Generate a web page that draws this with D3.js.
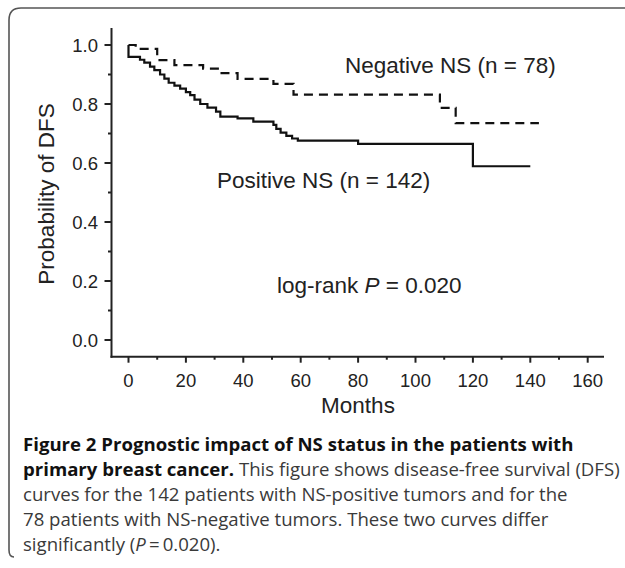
<!DOCTYPE html>
<html>
<head>
<meta charset="utf-8">
<script src="https://cdn.jsdelivr.net/npm/d3@7"></script>
<style>
  body { margin: 0; background: #fff; }
  svg { display: block; }
  .tick-label { font-family: "Liberation Sans", Arial, sans-serif; font-size: 18.5px; fill: #222; }
  .note { font-family: "Liberation Sans", Arial, sans-serif; font-size: 22.5px; fill: #222; }
  .caption { font-family: "Open Sans", sans-serif; font-size: 18.6px; fill: #3a3a3a; }
  .caption .bold { font-weight: bold; fill: #111; }
</style>
</head>
<body>
<div id="chart"></div>
<script>
// Kaplan-Meier steps (months, survival after the step)
var posMonths = [0, 0, 4, 5.5, 7.5, 9, 11, 12.5, 14, 16, 18, 20, 21.5, 23, 25, 27.5, 30.5, 32, 38, 43.5, 50.5, 51.5, 53, 55, 57, 59, 80, 120, 140];
var posSurv   = [1.0, 0.960, 0.950, 0.940, 0.927, 0.915, 0.900, 0.886, 0.872, 0.862, 0.852, 0.840, 0.830, 0.815, 0.800, 0.788, 0.774, 0.757, 0.751, 0.740, 0.729, 0.716, 0.703, 0.692, 0.683, 0.676, 0.665, 0.589, 0.589];

var negMonths = [0, 2.5, 10, 16, 26, 31.5, 38, 50.5, 57.5, 108.5, 114, 143];
var negSurv   = [1.0, 0.987, 0.949, 0.932, 0.920, 0.905, 0.885, 0.868, 0.832, 0.787, 0.735, 0.735];

var xTicks = [0, 20, 40, 60, 80, 100, 120, 140, 160];
var xMinorTicks = [10, 30, 50, 70, 90, 110, 130, 150];
var yTicks = [0, 0.2, 0.4, 0.6, 0.8, 1.0];
var yMinorTicks = [0.1, 0.3, 0.5, 0.7, 0.9];

var captionLines = [
    [{t: 'Figure 2 Prognostic impact of NS status in the patients with', b: true}],
    [{t: 'primary breast cancer.', b: true}, {t: ' This figure shows disease-free survival (DFS)'}],
    [{t: 'curves for the 142 patients with NS-positive tumors and for the'}],
    [{t: '78 patients with NS-negative tumors. These two curves differ'}],
    [{t: 'significantly ('}, {t: 'P', i: true}, {t: '\u2009=\u20090.020).'}]
];

var width = 625,
    height = 568;

var svg = d3.select('#chart').append('svg')
    .attr('width', width)
    .attr('height', height)
    .attr('viewBox', `0 0 ${width} ${height}`);

// Frame with rounded left corners, open on the right
svg.append('path')
    .attr('d', 'M14,557 Q9,557 9,550 L9,20 Q9,8 21,8 L625,8')
    .attr('fill', 'none')
    .attr('stroke', '#555')
    .attr('stroke-width', 1.6);

// Scales
var xScale = d3.scaleLinear().domain([0, 160]).range([128.5, 587.7]);
var yScale = d3.scaleLinear().domain([0, 1]).range([340, 45]);

var axisX0 = 111.5,
    axisY0 = 356.7;

// Axis lines
var axes = svg.append('g').attr('stroke', '#222').attr('stroke-width', 2).attr('fill', 'none');
axes.append('line').attr('x1', axisX0).attr('x2', axisX0).attr('y1', 28).attr('y2', axisY0 + 1);
axes.append('line').attr('x1', axisX0 - 1).attr('x2', 604).attr('y1', axisY0).attr('y2', axisY0);

// Y ticks
axes.selectAll('.ymaj').data(yTicks).enter().append('line')
    .attr('x1', axisX0 - 7).attr('x2', axisX0)
    .attr('y1', (d) => yScale(d)).attr('y2', (d) => yScale(d));
axes.selectAll('.ymin').data(yMinorTicks).enter().append('line')
    .attr('x1', axisX0 - 3.5).attr('x2', axisX0)
    .attr('y1', (d) => yScale(d)).attr('y2', (d) => yScale(d));

svg.selectAll('.ylab').data(yTicks).enter().append('text')
    .attr('class', 'tick-label')
    .attr('x', 98)
    .attr('y', (d) => yScale(d))
    .attr('dy', '0.36em')
    .attr('text-anchor', 'end')
    .text(d3.format('.1f'));

// X ticks
axes.selectAll('.xmaj').data(xTicks).enter().append('line')
    .attr('x1', (d) => xScale(d)).attr('x2', (d) => xScale(d))
    .attr('y1', axisY0).attr('y2', axisY0 + 6);
axes.selectAll('.xmin').data(xMinorTicks).enter().append('line')
    .attr('x1', (d) => xScale(d)).attr('x2', (d) => xScale(d))
    .attr('y1', axisY0).attr('y2', axisY0 + 3);

svg.selectAll('.xlab').data(xTicks).enter().append('text')
    .attr('class', 'tick-label')
    .attr('x', (d) => xScale(d))
    .attr('y', 386.5)
    .attr('text-anchor', 'middle')
    .text((d) => d);

// Axis titles
svg.append('text')
    .attr('class', 'note')
    .attr('transform', 'translate(54,194) rotate(-90)')
    .attr('text-anchor', 'middle')
    .text('Probability of DFS');

svg.append('text')
    .attr('class', 'note')
    .attr('x', 358)
    .attr('y', 413)
    .attr('text-anchor', 'middle')
    .text('Months');

// Survival curves
var line = d3.line()
    .x((d) => xScale(d[0]))
    .y((d) => yScale(d[1]))
    .curve(d3.curveStepAfter);

svg.append('path')
    .datum(d3.zip(posMonths, posSurv))
    .attr('d', line)
    .attr('fill', 'none')
    .attr('stroke', '#111')
    .attr('stroke-width', 2.2);

svg.append('path')
    .datum(d3.zip(negMonths, negSurv))
    .attr('d', line)
    .attr('fill', 'none')
    .attr('stroke', '#111')
    .attr('stroke-width', 2.2)
    .attr('stroke-dasharray', '9,6');

// Curve labels
svg.append('text').attr('class', 'note').attr('x', 345).attr('y', 73).text('Negative NS (n = 78)');
svg.append('text').attr('class', 'note').attr('x', 217).attr('y', 188).text('Positive NS (n = 142)');

var pText = svg.append('text').attr('class', 'note').attr('x', 277).attr('y', 293);
pText.append('tspan').text('log-rank ');
pText.append('tspan').attr('font-style', 'italic').text('P');
pText.append('tspan').text(' = 0.020');

// Caption
var caption = svg.append('g').attr('class', 'caption');
captionLines.forEach(function(parts, i) {
    var txt = caption.append('text')
        .attr('x', 23)
        .attr('y', 451 + i * 25);
    parts.forEach(function(p) {
        var ts = txt.append('tspan').text(p.t);
        if (p.b) ts.attr('class', 'bold');
        if (p.i) ts.attr('font-style', 'italic');
    });
});
</script>
</body>
</html>
